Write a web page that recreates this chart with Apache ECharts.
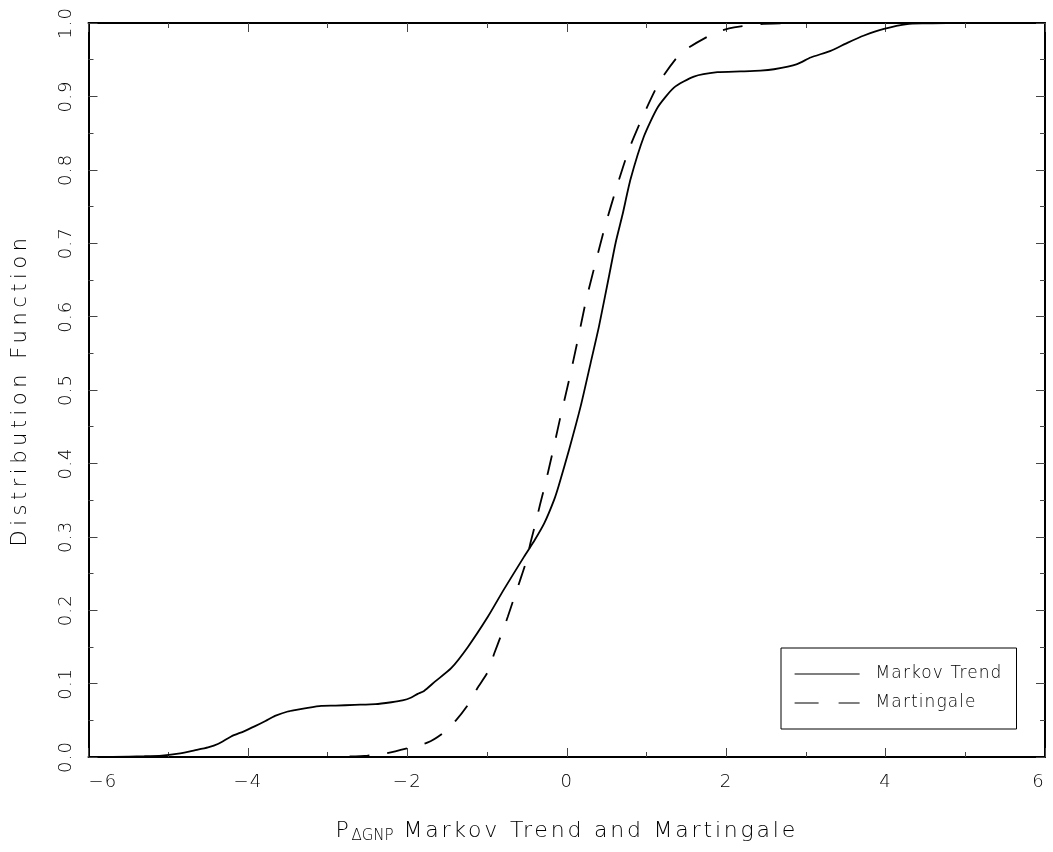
<!DOCTYPE html>
<html>
<head>
<meta charset="utf-8">
<script src="https://cdn.jsdelivr.net/npm/echarts@6/dist/echarts.min.js"></script>
<style>
html,body{margin:0;padding:0;background:#fff;}
#chart{width:1053px;height:852px;}
</style>
</head>
<body>
<div id="chart"></div>
<script>
// ---- data ----
const seriesNames = ['Markov Trend', 'Martingale'];
const markovX = [-5.7, -5.3, -5.08, -4.85, -4.67, -4.5, -4.37, -4.21, -4.05, -3.91, -3.78, -3.66, -3.5, -3.41, -3.25, -3.08, -2.9, -2.66, -2.4, -2.2, -2.06, -1.95, -1.87, -1.79, -1.65, -1.45, -1.24, -0.99, -0.79, -0.535, -0.4, -0.28, -0.16, -0.1, 0.03, 0.175, 0.3, 0.405, 0.53, 0.614, 0.7, 0.8, 0.97, 1.14, 1.345, 1.595, 1.89, 2.18, 2.43, 2.6, 2.89, 3.06, 3.31, 3.52, 3.73, 3.98, 4.27, 4.5, 4.77, 4.9];
const markovY = [0, 0.001, 0.002, 0.005, 0.009, 0.013, 0.018, 0.028, 0.035, 0.042, 0.049, 0.056, 0.062, 0.064, 0.067, 0.0696, 0.070, 0.071, 0.072, 0.0746, 0.077, 0.081, 0.086, 0.090, 0.103, 0.121, 0.150, 0.191, 0.228, 0.273, 0.296, 0.319, 0.350, 0.370, 0.419, 0.478, 0.537, 0.587, 0.655, 0.701, 0.739, 0.787, 0.846, 0.885, 0.912, 0.927, 0.933, 0.934, 0.935, 0.937, 0.944, 0.953, 0.962, 0.973, 0.983, 0.992, 0.9986, 0.9995, 1.0, 1.0];
const martX = [-3.2, -2.8, -2.5, -2.27, -2.0, -1.75, -1.56, -1.39, -1.24, -1.12, -0.99, -0.91, -0.83, -0.74, -0.66, -0.585, -0.51, -0.45, -0.39, -0.335, -0.276, -0.19, -0.084, 0.03, 0.138, 0.242, 0.36, 0.485, 0.631, 0.781, 0.96, 1.165, 1.437, 1.867, 2.1, 2.43, 2.8, 3.2];
const martY = [0, 0.0005, 0.002, 0.005, 0.012, 0.0195, 0.032, 0.050, 0.071, 0.094, 0.116, 0.141, 0.164, 0.191, 0.217, 0.241, 0.266, 0.294, 0.319, 0.344, 0.369, 0.409, 0.461, 0.514, 0.568, 0.622, 0.673, 0.725, 0.778, 0.828, 0.874, 0.920, 0.9595, 0.987, 0.994, 0.9986, 0.9996, 1.0];
const xTitle = 'P{s|ΔGNP} Markov Trend and Martingale';
const yTitle = 'Distribution Function';

// wide letter spacing like the original stroke font (by font size)
(function () {
  const P = CanvasRenderingContext2D.prototype;
  const SP = {22: 2.8, 21: 4.5, 18: 1.2, 17: 1.1};
  function ap(ctx) {
    const m = /([\d.]+)px/.exec(ctx.font);
    const s = m ? SP[Math.round(parseFloat(m[1]))] : 0;
    if ('letterSpacing' in ctx) ctx.letterSpacing = (s || 0) + 'px';
  }
  ['fillText', 'strokeText', 'measureText'].forEach(function (k) {
    const o = P[k];
    P[k] = function () { ap(this); return o.apply(this, arguments); };
  });
})();

const FONT = 'DejaVu Sans';
const TXT = '#000';
function pairs(xs, ys) { return xs.map((x, i) => [x, ys[i]]); }

const tickStyle = {color: '#444', width: 1};
function xAx(pos, showLabel) {
  return {
    type: 'value', position: pos, min: -6, max: 6, interval: 2,
    axisLine: {show: true, onZero: false, lineStyle: {color: '#000', width: 2}},
    axisTick: {show: true, inside: true, length: 9, lineStyle: tickStyle},
    minorTick: {show: true, splitNumber: 2, length: 5, lineStyle: tickStyle},
    splitLine: {show: false}, minorSplitLine: {show: false},
    axisLabel: {
      show: showLabel, fontFamily: FONT, fontSize: 18, fontWeight: 200, color: TXT, margin: 16,
      alignMinLabel: 'left', alignMaxLabel: 'right',
      formatter: v => v < 0 ? '\u2212' + Math.abs(v) : String(v)
    }
  };
}
function yAx(pos, showLabel) {
  return {
    type: 'value', position: pos, min: 0, max: 1, interval: 0.1,
    axisLine: {show: true, onZero: false, lineStyle: {color: '#000', width: 2}},
    axisTick: {show: true, inside: true, length: 9, lineStyle: tickStyle},
    minorTick: {show: true, splitNumber: 2, length: 5, lineStyle: tickStyle},
    splitLine: {show: false}, minorSplitLine: {show: false},
    axisLabel: {
      show: showLabel, rotate: 90, fontFamily: FONT, fontSize: 18, fontWeight: 200, color: TXT, margin: 13,
      formatter: v => v.toFixed(1)
    }
  };
}

const xBottom = xAx('bottom', true);
xBottom.name = xTitle;
xBottom.nameLocation = 'middle';
xBottom.nameGap = 62;
xBottom.nameTextStyle = {
  fontFamily: FONT, fontSize: 22, fontWeight: 200, color: TXT,
  rich: {s: {fontFamily: FONT, fontSize: 15, fontWeight: 200, color: TXT, padding: [9, 0, 0, 0]}}
};
const yLeft = yAx('left', true);
yLeft.name = yTitle;
yLeft.nameLocation = 'middle';
yLeft.nameGap = 55;
yLeft.nameTextStyle = {fontFamily: FONT, fontSize: 21, fontWeight: 200, color: TXT};

const chart = echarts.init(document.getElementById('chart'), null, {renderer: 'canvas'});
chart.setOption({
  animation: false,
  backgroundColor: '#fff',
  grid: {left: 87, right: 8, top: 23, bottom: 95, containLabel: false},
  xAxis: [xBottom, xAx('top', false)],
  yAxis: [yLeft, yAx('right', false)],
  legend: {
    show: true, orient: 'vertical', left: 781, top: 648,
    padding: [16, 14, 16, 13], itemGap: 9, itemWidth: 65, itemHeight: 14,
    borderColor: '#000', borderWidth: 1, borderRadius: 0,
    backgroundColor: '#fff',
    textStyle: {fontFamily: FONT, fontSize: 17, fontWeight: 200, color: TXT, lineHeight: 20, padding: [0, 0, 0, 11]},
    itemStyle: {color: 'rgba(0,0,0,0)', borderWidth: 0, opacity: 0},
    lineStyle: {width: 1.2, color: '#000'},
    data: [
      {name: seriesNames[0], lineStyle: {type: 'solid', width: 1.2}},
      {name: seriesNames[1], lineStyle: {type: [24, 20], width: 1.2}}
    ]
  },
  series: [
    {
      name: seriesNames[0], type: 'line', xAxisIndex: 0, yAxisIndex: 0,
      data: pairs(markovX, markovY), symbol: 'none', showSymbol: false, smooth: 0.2,
      lineStyle: {color: '#000', width: 1.8, type: 'solid'}, itemStyle: {color: '#000'}
    },
    {
      name: seriesNames[1], type: 'line', xAxisIndex: 0, yAxisIndex: 0,
      data: pairs(martX, martY), symbol: 'none', showSymbol: false, smooth: 0.2,
      lineStyle: {color: '#000', width: 1.8, type: [20, 18]}, itemStyle: {color: '#000'}
    }
  ]
});
</script>
</body>
</html>
